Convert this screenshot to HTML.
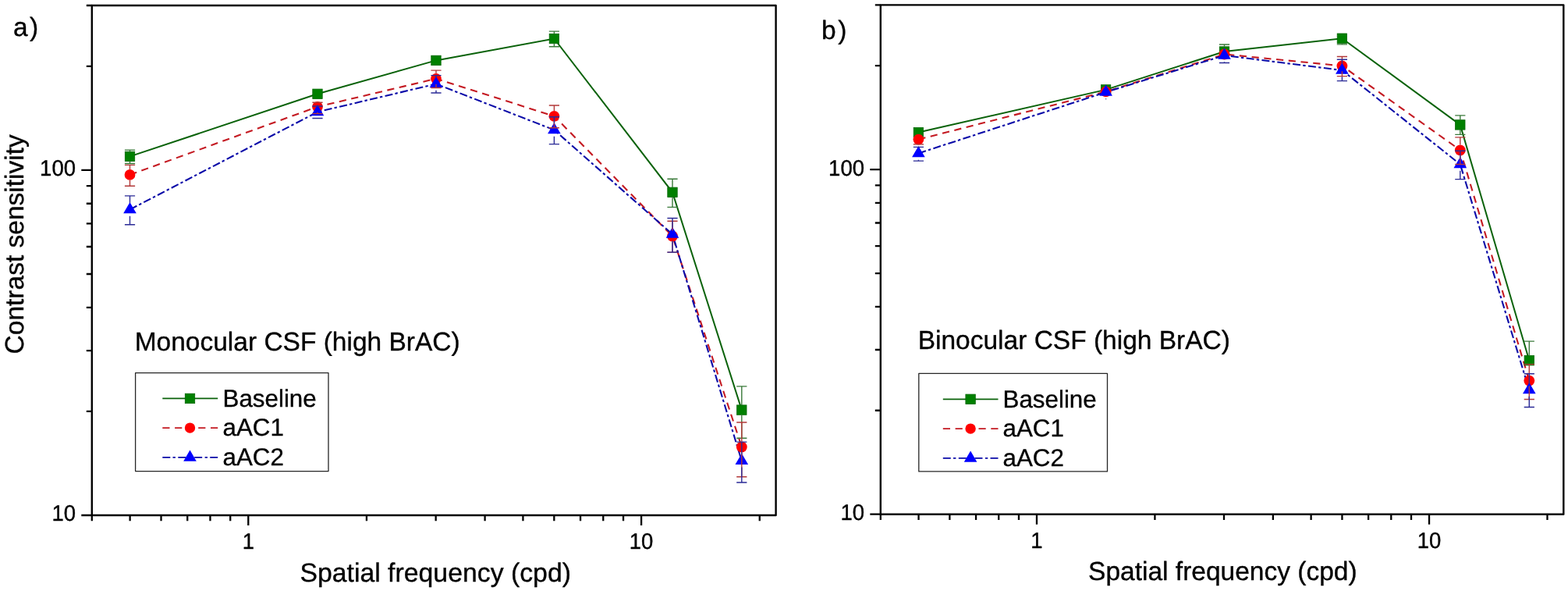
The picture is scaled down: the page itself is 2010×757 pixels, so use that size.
<!DOCTYPE html>
<html><head><meta charset="utf-8"><title>Contrast sensitivity</title>
<style>
html,body{margin:0;padding:0;background:#fff;}
body{width:2010px;height:757px;overflow:hidden;}
svg{display:block;}
text{font-family:"Liberation Sans", Arial, sans-serif;fill:#000;stroke:#000;stroke-width:0.35px;stroke-linejoin:round;text-rendering:geometricPrecision;}
</style></head><body>
<svg width="2010" height="757" viewBox="0 0 2010 757">
<rect width="2010" height="757" fill="#fff"/>
<path d="M110.80 526.92H117.80M110.80 449.08H117.80M110.80 393.84H117.80M110.80 351.00H117.80M110.80 316.00H117.80M110.80 286.40H117.80M110.80 260.77H117.80M110.80 238.15H117.80M110.80 84.85H117.80M110.80 7.00H117.80M104.30 660.00H117.80M104.30 217.92H117.80M117.80 660.00V667.30M166.62 660.00V667.30M206.52 660.00V667.30M240.24 660.00V667.30M269.46 660.00V667.30M295.23 660.00V667.30M469.94 660.00V667.30M558.66 660.00V667.30M621.60 660.00V667.30M670.43 660.00V667.30M710.32 660.00V667.30M744.05 660.00V667.30M773.26 660.00V667.30M799.03 660.00V667.30M973.75 660.00V667.30M318.28 660.00V673.00M822.09 660.00V673.00" stroke="#000" stroke-width="2.3" fill="none"/>
<rect x="117.80" y="7.00" width="876.80" height="653.00" fill="none" stroke="#000" stroke-width="2.4" stroke-linejoin="round"/>
<text transform="translate(97.00 225.32) scale(1 1.04)" font-size="27.5" text-anchor="end">100</text>
<text transform="translate(97.00 667.40) scale(1 1.04)" font-size="27.5" text-anchor="end">10</text>
<text transform="translate(318.28 702.8) scale(1 1.04)" font-size="27.5" text-anchor="middle">1</text>
<text transform="translate(822.09 702.8) scale(1 1.04)" font-size="27.5" text-anchor="middle">10</text>
<polyline points="166.50,200.40 407.00,120.30 559.00,77.40 710.40,49.50 862.00,246.30 950.80,525.10" fill="none" stroke="#0a620a" stroke-width="2"/>
<polyline points="166.50,223.90 407.00,136.80 559.00,100.80 710.40,148.80 862.00,302.50 950.80,572.50" fill="none" stroke="#c41a22" stroke-width="2.1" stroke-dasharray="9.2 6.6"/>
<polyline points="166.50,268.40 407.00,143.40 559.00,107.50 710.40,166.40 862.00,300.10 950.80,590.30" fill="none" stroke="#0a0aa8" stroke-width="2.1" stroke-dasharray="10 3.2 3.4 3.4"/>
<rect x="160.30" y="194.20" width="12.4" height="12.4" fill="#008000" stroke="#006600" stroke-width="0.8"/>
<rect x="400.80" y="114.10" width="12.4" height="12.4" fill="#008000" stroke="#006600" stroke-width="0.8"/>
<rect x="552.80" y="71.20" width="12.4" height="12.4" fill="#008000" stroke="#006600" stroke-width="0.8"/>
<rect x="704.20" y="43.30" width="12.4" height="12.4" fill="#008000" stroke="#006600" stroke-width="0.8"/>
<rect x="855.80" y="240.10" width="12.4" height="12.4" fill="#008000" stroke="#006600" stroke-width="0.8"/>
<rect x="944.60" y="518.90" width="12.4" height="12.4" fill="#008000" stroke="#006600" stroke-width="0.8"/>
<circle cx="166.50" cy="223.90" r="6.9" fill="#ff0000"/>
<circle cx="407.00" cy="136.80" r="6.9" fill="#ff0000"/>
<circle cx="559.00" cy="100.80" r="6.9" fill="#ff0000"/>
<circle cx="710.40" cy="148.80" r="6.9" fill="#ff0000"/>
<circle cx="862.00" cy="302.50" r="6.9" fill="#ff0000"/>
<circle cx="950.80" cy="572.50" r="6.9" fill="#ff0000"/>
<polygon points="166.50,258.93 158.20,273.13 174.80,273.13" fill="#0000ff"/>
<polygon points="407.00,133.93 398.70,148.13 415.30,148.13" fill="#0000ff"/>
<polygon points="559.00,98.03 550.70,112.23 567.30,112.23" fill="#0000ff"/>
<polygon points="710.40,156.93 702.10,171.13 718.70,171.13" fill="#0000ff"/>
<polygon points="862.00,290.63 853.70,304.83 870.30,304.83" fill="#0000ff"/>
<polygon points="950.80,580.83 942.50,595.03 959.10,595.03" fill="#0000ff"/>
<path d="M159.90 192.10H173.10M166.50 192.10V194.20M159.90 209.50H173.10M166.50 206.60V209.50" stroke="#3a7a3a" stroke-width="1.4" fill="none"/>
<path d="M703.80 40.10H717.00M710.40 40.10V43.30M703.80 59.70H717.00M710.40 55.70V59.70" stroke="#3a7a3a" stroke-width="1.4" fill="none"/>
<path d="M855.40 229.20H868.60M862.00 229.20V240.10M855.40 265.40H868.60M862.00 252.50V265.40" stroke="#3a7a3a" stroke-width="1.4" fill="none"/>
<path d="M944.20 494.90H957.40M950.80 494.90V518.90M944.20 561.20H957.40M950.80 531.30V561.20" stroke="#3a7a3a" stroke-width="1.4" fill="none"/>
<path d="M159.90 211.40H173.10M166.50 211.40V217.00M159.90 238.20H173.10M166.50 230.80V238.20" stroke="#b23838" stroke-width="1.4" fill="none"/>
<path d="M400.40 131.30H413.60M400.40 145.60H413.60M407.00 143.70V145.60" stroke="#b23838" stroke-width="1.4" fill="none"/>
<path d="M552.40 90.10H565.60M559.00 90.10V93.90M552.40 112.50H565.60M559.00 107.70V112.50" stroke="#b23838" stroke-width="1.4" fill="none"/>
<path d="M703.80 135.00H717.00M710.40 135.00V141.90M703.80 163.80H717.00M710.40 155.70V163.80" stroke="#b23838" stroke-width="1.4" fill="none"/>
<path d="M855.40 283.20H868.60M862.00 283.20V295.60M855.40 323.10H868.60M862.00 309.40V323.10" stroke="#b23838" stroke-width="1.4" fill="none"/>
<path d="M944.20 541.00H957.40M950.80 541.00V565.60M944.20 610.70H957.40M950.80 579.40V610.70" stroke="#b23838" stroke-width="1.4" fill="none"/>
<path d="M159.90 250.90H173.10M166.50 250.90V260.10M159.90 287.80H173.10M166.50 276.70V287.80" stroke="#2a2a96" stroke-width="1.4" fill="none"/>
<path d="M400.40 136.00H413.60M400.40 151.50H413.60" stroke="#2a2a96" stroke-width="1.4" fill="none"/>
<path d="M552.40 96.60H565.60M559.00 96.60V99.20M552.40 119.00H565.60M559.00 115.80V119.00" stroke="#2a2a96" stroke-width="1.4" fill="none"/>
<path d="M703.80 149.80H717.00M710.40 149.80V158.10M703.80 184.60H717.00M710.40 174.70V184.60" stroke="#2a2a96" stroke-width="1.4" fill="none"/>
<path d="M855.40 279.50H868.60M862.00 279.50V291.80M855.40 323.10H868.60M862.00 308.40V323.10" stroke="#2a2a96" stroke-width="1.4" fill="none"/>
<path d="M944.20 566.10H957.40M950.80 566.10V582.00M944.20 618.00H957.40M950.80 598.60V618.00" stroke="#2a2a96" stroke-width="1.4" fill="none"/>
<path d="M1121.80 525.76H1128.80M1121.80 448.00H1128.80M1121.80 392.83H1128.80M1121.80 350.03H1128.80M1121.80 315.07H1128.80M1121.80 285.50H1128.80M1121.80 259.89H1128.80M1121.80 237.30H1128.80M1121.80 84.16H1128.80M1121.80 6.40H1128.80M1115.30 658.70H1128.80M1115.30 217.10H1128.80M1128.80 658.70V666.00M1177.55 658.70V666.00M1217.38 658.70V666.00M1251.06 658.70V666.00M1280.23 658.70V666.00M1305.97 658.70V666.00M1480.42 658.70V666.00M1569.00 658.70V666.00M1631.86 658.70V666.00M1680.61 658.70V666.00M1720.44 658.70V666.00M1754.12 658.70V666.00M1783.29 658.70V666.00M1809.02 658.70V666.00M1983.48 658.70V666.00M1328.99 658.70V671.70M1832.04 658.70V671.70" stroke="#000" stroke-width="2.3" fill="none"/>
<rect x="1128.80" y="6.40" width="875.50" height="652.30" fill="none" stroke="#000" stroke-width="2.4" stroke-linejoin="round"/>
<text transform="translate(1108.00 224.50) scale(1 1.04)" font-size="27.5" text-anchor="end">100</text>
<text transform="translate(1108.00 666.10) scale(1 1.04)" font-size="27.5" text-anchor="end">10</text>
<text transform="translate(1328.99 701.5) scale(1 1.04)" font-size="27.5" text-anchor="middle">1</text>
<text transform="translate(1832.04 701.5) scale(1 1.04)" font-size="27.5" text-anchor="middle">10</text>
<polyline points="1177.40,169.60 1417.60,114.90 1569.50,66.00 1720.40,49.20 1871.80,159.90 1960.30,461.70" fill="none" stroke="#0a620a" stroke-width="2"/>
<polyline points="1177.40,178.60 1417.60,117.40 1569.50,69.50 1720.40,84.40 1871.80,192.30 1960.30,487.60" fill="none" stroke="#c41a22" stroke-width="2.1" stroke-dasharray="9.2 6.6"/>
<polyline points="1177.40,196.40 1417.60,118.00 1569.50,71.00 1720.40,90.00 1871.80,210.50 1960.30,499.50" fill="none" stroke="#0a0aa8" stroke-width="2.1" stroke-dasharray="10 3.2 3.4 3.4"/>
<rect x="1171.20" y="163.40" width="12.4" height="12.4" fill="#008000" stroke="#006600" stroke-width="0.8"/>
<rect x="1411.40" y="108.70" width="12.4" height="12.4" fill="#008000" stroke="#006600" stroke-width="0.8"/>
<rect x="1563.30" y="59.80" width="12.4" height="12.4" fill="#008000" stroke="#006600" stroke-width="0.8"/>
<rect x="1714.20" y="43.00" width="12.4" height="12.4" fill="#008000" stroke="#006600" stroke-width="0.8"/>
<rect x="1865.60" y="153.70" width="12.4" height="12.4" fill="#008000" stroke="#006600" stroke-width="0.8"/>
<rect x="1954.10" y="455.50" width="12.4" height="12.4" fill="#008000" stroke="#006600" stroke-width="0.8"/>
<circle cx="1177.40" cy="178.60" r="6.9" fill="#ff0000"/>
<circle cx="1417.60" cy="117.40" r="6.9" fill="#ff0000"/>
<circle cx="1569.50" cy="69.50" r="6.9" fill="#ff0000"/>
<circle cx="1720.40" cy="84.40" r="6.9" fill="#ff0000"/>
<circle cx="1871.80" cy="192.30" r="6.9" fill="#ff0000"/>
<circle cx="1960.30" cy="487.60" r="6.9" fill="#ff0000"/>
<polygon points="1177.40,186.93 1169.10,201.13 1185.70,201.13" fill="#0000ff"/>
<polygon points="1417.60,108.53 1409.30,122.73 1425.90,122.73" fill="#0000ff"/>
<polygon points="1569.50,61.53 1561.20,75.73 1577.80,75.73" fill="#0000ff"/>
<polygon points="1720.40,80.53 1712.10,94.73 1728.70,94.73" fill="#0000ff"/>
<polygon points="1871.80,201.03 1863.50,215.23 1880.10,215.23" fill="#0000ff"/>
<polygon points="1960.30,490.03 1952.00,504.23 1968.60,504.23" fill="#0000ff"/>
<path d="M1562.90 57.00H1576.10M1569.50 57.00V59.80" stroke="#3a7a3a" stroke-width="1.4" fill="none"/>
<path d="M1713.80 56.90H1727.00M1720.40 55.40V56.90" stroke="#3a7a3a" stroke-width="1.4" fill="none"/>
<path d="M1865.20 147.90H1878.40M1871.80 147.90V153.70M1865.20 172.40H1878.40M1871.80 166.10V172.40" stroke="#3a7a3a" stroke-width="1.4" fill="none"/>
<path d="M1953.70 437.10H1966.90M1960.30 437.10V455.50" stroke="#3a7a3a" stroke-width="1.4" fill="none"/>
<path d="M1170.80 184.90H1184.00" stroke="#b23838" stroke-width="1.4" fill="none"/>
<path d="" stroke="#b23838" stroke-width="1.4" fill="none"/>
<path d="" stroke="#b23838" stroke-width="1.4" fill="none"/>
<path d="M1713.80 72.50H1727.00M1720.40 72.50V77.50M1713.80 97.60H1727.00M1720.40 91.30V97.60" stroke="#b23838" stroke-width="1.4" fill="none"/>
<path d="M1865.20 175.90H1878.40M1871.80 175.90V185.40M1865.20 210.50H1878.40M1871.80 199.20V210.50" stroke="#b23838" stroke-width="1.4" fill="none"/>
<path d="M1953.70 466.60H1966.90M1960.30 466.60V480.70M1953.70 511.50H1966.90M1960.30 494.50V511.50" stroke="#b23838" stroke-width="1.4" fill="none"/>
<path d="M1170.80 188.40H1184.00M1170.80 206.10H1184.00M1177.40 204.70V206.10" stroke="#2a2a96" stroke-width="1.4" fill="none"/>
<path d="M1417.60 126.30V127.30" stroke="#2a2a96" stroke-width="1.4" fill="none"/>
<path d="M1562.90 80.50H1576.10M1569.50 79.30V80.50" stroke="#2a2a96" stroke-width="1.4" fill="none"/>
<path d="M1713.80 76.30H1727.00M1720.40 76.30V81.70M1713.80 103.60H1727.00M1720.40 98.30V103.60" stroke="#2a2a96" stroke-width="1.4" fill="none"/>
<path d="M1865.20 193.20H1878.40M1871.80 193.20V202.20M1865.20 229.60H1878.40M1871.80 218.80V229.60" stroke="#2a2a96" stroke-width="1.4" fill="none"/>
<path d="M1953.70 478.70H1966.90M1960.30 478.70V491.20M1953.70 521.50H1966.90M1960.30 507.80V521.50" stroke="#2a2a96" stroke-width="1.4" fill="none"/>
<rect x="173.6" y="477.6" width="247.40" height="126.00" fill="none" stroke="#262626" stroke-width="1.3" stroke-linejoin="round"/>
<line x1="208.3" y1="510.4" x2="279.2" y2="510.4" stroke="#0a620a" stroke-width="1.8"/>
<path d="M208.3 548.1H243.5M279.2 548.1H243.5" stroke="#c41a22" stroke-width="1.9" stroke-dasharray="9.2 6.6" fill="none"/>
<path d="M208.3 585.9H243.5M279.2 585.9H243.5" stroke="#0a0aa8" stroke-width="1.9" stroke-dasharray="10 3.2 3.4 3.4" fill="none"/>
<rect x="237.30" y="504.20" width="12.4" height="12.4" fill="#008000" stroke="#006600" stroke-width="0.8"/>
<circle cx="243.50" cy="548.10" r="6.7" fill="#ff0000"/>
<polygon points="243.50,576.43 235.20,590.63 251.80,590.63" fill="#0000ff"/>
<text x="285.6" y="520.9" font-size="31.3">Baseline</text>
<text x="285.6" y="558.4" font-size="31.3">aAC1</text>
<text x="285.6" y="595.8" font-size="31.3">aAC2</text>
<rect x="1177.8" y="478.3" width="241.70" height="125.60" fill="none" stroke="#262626" stroke-width="1.3" stroke-linejoin="round"/>
<line x1="1208.8" y1="511.3" x2="1279.5" y2="511.3" stroke="#0a620a" stroke-width="1.8"/>
<path d="M1208.8 549.1H1244.1M1279.5 549.1H1244.1" stroke="#c41a22" stroke-width="1.9" stroke-dasharray="9.2 6.6" fill="none"/>
<path d="M1208.8 586.9H1244.1M1279.5 586.9H1244.1" stroke="#0a0aa8" stroke-width="1.9" stroke-dasharray="10 3.2 3.4 3.4" fill="none"/>
<rect x="1237.90" y="505.10" width="12.4" height="12.4" fill="#008000" stroke="#006600" stroke-width="0.8"/>
<circle cx="1244.10" cy="549.10" r="6.7" fill="#ff0000"/>
<polygon points="1244.10,577.43 1235.80,591.63 1252.40,591.63" fill="#0000ff"/>
<text x="1285.6" y="522.0" font-size="31.3">Baseline</text>
<text x="1285.6" y="559.4" font-size="31.3">aAC1</text>
<text x="1285.6" y="596.9" font-size="31.3">aAC2</text>
<text x="16.9" y="46.0" font-size="33.5">a<tspan dx="2.5">)</tspan></text>
<text x="1053.1" y="50.3" font-size="33.5">b<tspan dx="2.5">)</tspan></text>
<text transform="translate(29.8 453.4) rotate(-90)" font-size="33.5">Contrast sensitivity</text>
<text x="384.4" y="745.2" font-size="33.8">Spatial frequency (cpd)</text>
<text x="1395.1" y="743.2" font-size="33.5">Spatial frequency (cpd)</text>
<text x="172.7" y="448.5" font-size="33.5">Monocular CSF (high BrAC)</text>
<text x="1176.7" y="446.8" font-size="33.5">Binocular CSF (high BrAC)</text>
</svg>
</body></html>
